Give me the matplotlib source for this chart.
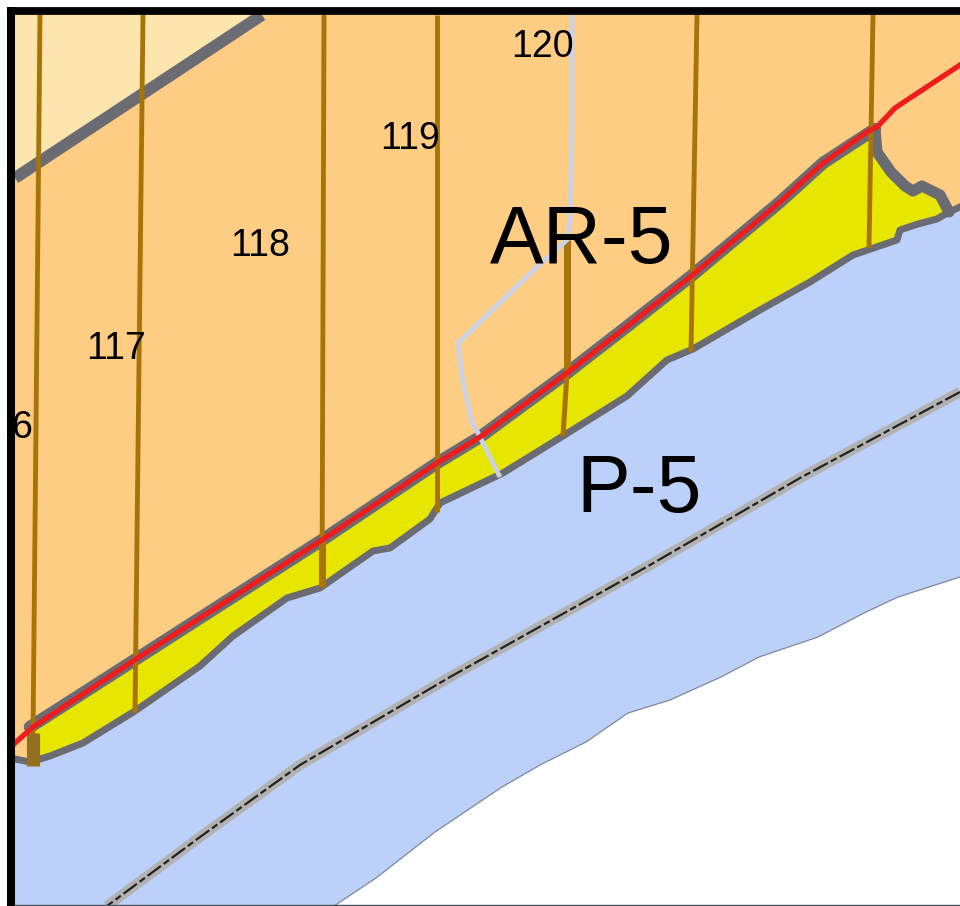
import matplotlib
matplotlib.use("Agg")
import matplotlib.pyplot as plt
from matplotlib.patches import Polygon

# map outlines, pixel coords
top_zone_x = [15, 15, 262]
top_zone_y = [15, 178, 15]
shore_x = [960, 949, 937, 918, 900, 897, 853, 810, 760, 693, 667, 627, 563, 503, 440, 430, 390, 373, 320, 287, 233, 200, 135, 83, 50, 30, 15]
shore_y = [207, 212, 219, 224, 230, 240, 255, 282, 310, 349, 360, 396, 436, 473, 503, 519, 548, 551, 588, 598, 636, 666, 711, 743, 756, 762, 759]
top_x = [30, 133, 200, 322, 437, 480, 567, 625, 690, 720, 780, 823, 875]
top_y = [727, 661, 618, 540, 463, 437, 373, 328, 277, 252, 202, 163, 129]
tip_x = [875, 877, 891, 905, 913, 922, 940, 949]
tip_y = [129, 152, 172, 186, 191, 186, 195, 212]
river_x = [960, 898, 864, 818, 759, 721, 670, 628, 586, 540, 502, 435, 376, 334]
river_y = [577, 597, 613, 637, 657, 677, 700, 713, 742, 765, 787, 832, 878, 906]
road_x = [960, 800, 650, 450, 300, 200, 107]
road_y = [392, 478, 565, 677, 765, 837, 906]
red_x = [15, 33, 133, 200, 322, 437, 480, 567, 625, 690, 720, 780, 823, 870, 877, 895, 960]
red_y = [743, 727, 661, 618, 540, 463, 437, 373, 328, 277, 252, 202, 163, 130, 127, 108, 65]
pale_x = [572, 572, 570, 567, 537, 458, 462, 472, 478, 500]
pale_y = [15, 120, 220, 240, 267, 343, 377, 423, 433, 477]
lot_top_x = [40, 143, 324, 437, 697, 873]
lot_top_y = [15, 15, 15, 15, 15, 15]
lot_bot_x = [33, 135, 322, 437, 691, 869]
lot_bot_y = [735, 713, 587, 512, 352, 248]
lot_numbers = ["6", "117", "118", "119", "120"]
lot_num_x = [22, 116, 260, 410, 542]
lot_num_y = [428, 349, 246, 139, 47]

fig = plt.figure(figsize=(9.6, 9.06), dpi=100, facecolor="white")
ax = fig.add_axes([0, 0, 1, 1])
ax.set_xlim(0, 960)
ax.set_ylim(906, 0)
ax.axis("off")

grey = "#6b6b74"
brown = "#a87408"

ax.add_patch(Polygon([(15, 15), (960, 15), (960, 906), (15, 906)], fc="#fdcd84", ec="none", zorder=1))
ax.add_patch(Polygon(list(zip(top_zone_x, top_zone_y)), fc="#fde6ae", ec="none", zorder=2))
ax.plot([15, 262], [178, 15], color=grey, lw=8.5, zorder=3, solid_capstyle="butt")

# blue zone below the shore, white below the river bank
blue = list(zip(shore_x, shore_y)) + [(15, 906), (960, 906)]
ax.add_patch(Polygon(blue, fc="#bcd1fa", ec="none", zorder=2))
white = list(zip(river_x, river_y)) + [(960, 906)]
ax.add_patch(Polygon(white, fc="white", ec="none", zorder=3))
ax.plot(river_x, river_y, color="#7f8794", lw=0.9, zorder=3)

yellow = list(zip(top_x, top_y)) + list(zip(tip_x, tip_y)) + list(zip(shore_x[2:-1], shore_y[2:-1]))
ax.add_patch(Polygon(yellow, fc="#e6e600", ec="none", zorder=4))

ax.plot(shore_x, shore_y, color=grey, lw=5, solid_joinstyle="round", zorder=5)
ax.plot(tip_x, tip_y, color=grey, lw=8, solid_joinstyle="round", solid_capstyle="round", zorder=5)
ax.plot(top_x, top_y, color=grey, lw=9, solid_joinstyle="round", solid_capstyle="round", zorder=5)

for i in range(len(lot_top_x)):
    ax.plot([lot_top_x[i], lot_bot_x[i]], [lot_top_y[i], lot_bot_y[i]], color=brown, lw=3.5, zorder=6, solid_capstyle="butt")
# the thicker stubs
ax.plot([567, 567], [240, 373], color=brown, lw=5, zorder=6, solid_capstyle="butt")
ax.plot([567, 563], [373, 436], color=brown, lw=3.6, zorder=6, solid_capstyle="butt")
ax.plot([322, 322], [540, 587], color=brown, lw=5, zorder=6, solid_capstyle="butt")
ax.plot([33, 33], [733, 766], color="#94701e", lw=9.5, zorder=6, solid_capstyle="butt")

ax.plot(pale_x, pale_y, color="#c9d2e8", lw=3.4, zorder=7, solid_capstyle="butt")
ax.plot(red_x, red_y, color="#ee1c1c", lw=3.8, zorder=8, solid_joinstyle="round")

ax.plot(road_x, road_y, color="#b2b2b2", lw=7.5, zorder=6, solid_capstyle="butt")
ax.plot(road_x, road_y, color="#222222", lw=1.6, dashes=(7.5, 1.5, 3, 1.5), zorder=7)

for i in range(len(lot_numbers)):
    ax.text(lot_num_x[i], lot_num_y[i], lot_numbers[i], fontsize=27, family="Liberation Sans",
            color="black", ha="center", va="center", zorder=9)
ax.text(582, 242, "AR-5", fontsize=58, family="Liberation Sans", color="black", ha="center", va="center", zorder=9)
ax.text(639, 491, "P-5", fontsize=58, family="Liberation Sans", color="black", ha="center", va="center", zorder=9)

# black frame on the top and left, thin line at the bottom
ax.plot([7, 960], [11, 11], color="black", lw=5.6, zorder=10, solid_capstyle="butt")
ax.plot([11, 11], [7, 906], color="black", lw=5.8, zorder=10, solid_capstyle="butt")
ax.plot([15, 960], [905, 905], color="#4a5260", lw=1, zorder=10)

fig.savefig("out.png", dpi=100)
